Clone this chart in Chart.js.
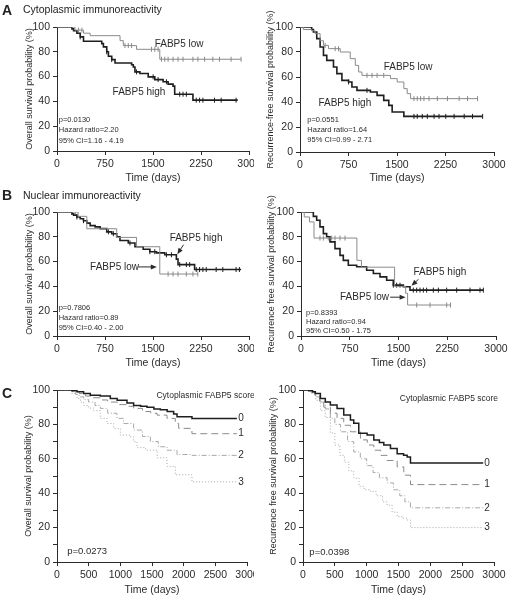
<!DOCTYPE html>
<html>
<head>
<meta charset="utf-8">
<script src="https://cdn.jsdelivr.net/npm/chart.js@4.4.1/dist/chart.umd.min.js"></script>
<style>
  body { margin: 0; background: #fff; }
  #fig { position: relative; width: 508px; height: 598px; font-family: 'Liberation Sans', Arial, sans-serif; color: #222; overflow: hidden; }
  .panel { position: absolute; }
  .lbl { position: absolute; font-weight: bold; font-size: 14px; line-height: 14px; }
  .ttl { position: absolute; font-size: 10.5px; line-height: 10.5px; white-space: nowrap; }
</style>
</head>
<body>
<div id="fig">
  <div class="panel" style="left:0;top:0;width:254px;height:190px"><canvas id="aOs"></canvas></div>
  <div class="panel" style="left:254px;top:0;width:254px;height:190px"><canvas id="aRfs"></canvas></div>
  <div class="panel" style="left:0;top:190px;width:254px;height:185px"><canvas id="bOs"></canvas></div>
  <div class="panel" style="left:254px;top:190px;width:254px;height:185px"><canvas id="bRfs"></canvas></div>
  <div class="panel" style="left:0;top:375px;width:254px;height:223px"><canvas id="cOs"></canvas></div>
  <div class="panel" style="left:254px;top:375px;width:254px;height:223px"><canvas id="cRfs"></canvas></div>

  <div class="lbl" style="left:2px;top:3px">A</div>
  <div class="ttl" style="left:23px;top:4px">Cytoplasmic immunoreactivity</div>
  <div class="lbl" style="left:2px;top:188px">B</div>
  <div class="ttl" style="left:23px;top:190px">Nuclear immunoreactivity</div>
  <div class="lbl" style="left:2px;top:386px">C</div>
</div>

<script>
// ---- data (days, survival %) ----
// A: cytoplasmic, overall survival
var aOsLowT = [0, 280, 415, 518, 985, 1036, 1243, 1606, 2876];
var aOsLowS = [100, 97.5, 95, 93, 89, 85, 82, 74, 74];
var aOsLowCens = [337, 389, 1062, 1114, 1166, 1477, 1528, 1580, 1632, 1684, 1736, 1813, 1891, 1969, 2124, 2202, 2306, 2435, 2539, 2720, 2876];
var aOsHighT = [0, 233, 259, 311, 363, 414, 699, 725, 777, 803, 855, 907, 1166, 1192, 1218, 1295, 1425, 1528, 1658, 1736, 1813, 1839, 2124, 2824];
var aOsHighS = [100, 98.5, 97, 95, 92, 88.5, 86.6, 84, 80, 76.4, 73.7, 71, 69.5, 67.8, 63.8, 62.5, 59.8, 57.6, 55.8, 53.9, 52.3, 45.8, 41, 41];
var aOsHighCens = [363, 777, 855, 1243, 1502, 1580, 1710, 1917, 1969, 2021, 2176, 2228, 2280, 2461, 2565, 2798];

// A: cytoplasmic, recurrence-free survival
var aRfsLowT = [0, 52, 181, 233, 311, 363, 440, 622, 777, 855, 907, 958, 1399, 1503, 1606, 1658, 1710, 2746];
var aRfsLowS = [100, 98, 97, 94.7, 89, 85.3, 82.7, 80, 74.7, 69.3, 64, 61.3, 58.7, 56, 50.7, 46.7, 42.7, 42.7];
var aRfsLowCens = [389, 544, 596, 1036, 1114, 1192, 1295, 1762, 1813, 1865, 1917, 1995, 2124, 2280, 2461, 2591, 2746];
var aRfsHighT = [0, 181, 207, 259, 311, 363, 414, 518, 570, 648, 751, 803, 881, 1088, 1192, 1295, 1373, 1425, 1606, 2824];
var aRfsHighS = [100, 98, 96, 90.7, 84, 77.3, 73.3, 68, 62.7, 57.3, 56, 52, 49.3, 48, 45.3, 41.3, 37.3, 32, 28.5, 28.5];
var aRfsHighCens = [751, 1036, 1762, 1813, 1891, 1969, 2073, 2150, 2254, 2383, 2539, 2668, 2824];

// B: nuclear, overall survival
var bOsLowT = [0, 330, 466, 933, 1243, 1606, 2200];
var bOsLowS = [100, 96.5, 86.5, 79.5, 72, 50, 50];
var bOsLowCens = [233, 285, 1736, 1813, 1891, 2021, 2124, 2200];
var bOsHighT = [0, 233, 259, 311, 363, 414, 466, 518, 596, 674, 777, 855, 933, 984, 1114, 1218, 1347, 1451, 1554, 1684, 1865, 1891, 2150, 2876];
var bOsHighS = [100, 98.5, 97.5, 96, 94.5, 93, 91, 89, 88, 86.6, 84, 82.5, 80, 77, 75, 72, 70, 68, 67, 65.5, 62, 57.6, 53.6, 53.6];
var bOsHighCens = [311, 414, 803, 881, 1140, 1451, 1528, 1710, 1788, 1917, 2021, 2073, 2176, 2228, 2280, 2332, 2487, 2591, 2798, 2850];

// B: nuclear, recurrence free survival
var bRfsLowT = [0, 50, 130, 200, 860, 930, 1440, 1610, 1640, 2300];
var bRfsLowS = [100, 96, 92, 79, 61, 55.5, 40, 34.5, 25, 25];
var bRfsLowCens = [292, 344, 420, 472, 523, 600, 677, 1780, 1985, 2241, 2300];
var bRfsHighT = [0, 190, 241, 292, 344, 395, 446, 523, 600, 651, 728, 856, 1010, 1113, 1215, 1318, 1420, 1574, 1677, 2805];
var bRfsHighS = [100, 96.5, 93.3, 88, 82.6, 80, 75.9, 70.5, 65, 61, 57, 55.8, 53, 50.4, 47.7, 45, 41, 39.7, 37, 37];
var bRfsHighCens = [1420, 1472, 1523, 1728, 1780, 1831, 1882, 1933, 2036, 2113, 2241, 2395, 2600, 2754, 2805];

// C: cytoplasmic score 0-3, overall survival
var cOs0T = [0, 237, 316, 420, 526, 684, 842, 950, 1105, 1210, 1320, 1421, 1530, 1632, 1740, 1842, 1895, 2131, 2840];
var cOs0S = [100, 99.5, 99, 98, 97, 96.5, 95, 94, 92.5, 91, 90.5, 90, 89, 88.5, 87.5, 86, 84.5, 83.4, 83.4];
var cOs1T = [0, 250, 350, 450, 550, 684, 800, 950, 1100, 1210, 1350, 1480, 1579, 1737, 1868, 1921, 2131, 2840];
var cOs1S = [100, 99, 98, 96.5, 95.5, 94.2, 93, 91.5, 90.5, 89.3, 87.5, 86.5, 85.4, 83.5, 80.6, 77.7, 74.6, 74.6];
var cOs2T = [0, 250, 290, 350, 421, 500, 600, 684, 800, 947, 1050, 1210, 1350, 1474, 1600, 1737, 1895, 2131, 2840];
var cOs2S = [100, 99, 97.5, 96, 94.5, 93, 91, 89.3, 86.5, 83.5, 80.5, 76.7, 73, 70, 67, 65, 62.5, 62, 62];
var cOs3T = [0, 230, 316, 370, 421, 500, 579, 684, 790, 895, 1000, 1158, 1210, 1263, 1400, 1583, 1737, 1868, 2131, 2840];
var cOs3S = [100, 98, 95, 93, 91, 89.5, 88, 83.5, 80.5, 77.7, 73.8, 72.8, 70, 66.5, 65, 60.6, 55.6, 50.7, 46.6, 46.6];

// C: cytoplasmic score 0-3, recurrence free survival
var cRfs0T = [0, 89, 150, 194, 273, 350, 430, 535, 640, 745, 797, 876, 1007, 1112, 1200, 1269, 1374, 1479, 1580, 1636, 1688, 2830];
var cRfs0S = [100, 99.6, 99, 98, 95, 93, 91.3, 89.3, 85.4, 82.5, 80.6, 74.8, 73.8, 70.9, 69.5, 68, 66, 63, 62, 61, 57.5, 57.5];
var cRfs1T = [0, 120, 185, 260, 326, 430, 535, 640, 745, 902, 1010, 1112, 1220, 1321, 1479, 1583, 1688, 2830];
var cRfs1S = [100, 99, 97, 93.5, 90, 86.5, 83.5, 79.5, 75.7, 71, 68, 65, 62, 59, 55.3, 50.5, 45, 45];
var cRfs2T = [0, 130, 200, 273, 350, 430, 500, 588, 700, 797, 900, 1000, 1100, 1200, 1321, 1420, 1520, 1600, 1688, 2830];
var cRfs2S = [100, 98.5, 96, 93, 89, 83.5, 80, 75.7, 70, 64, 60, 56, 52, 49, 46, 42, 38.5, 35, 31.5, 31.5];
var cRfs3T = [0, 130, 200, 273, 350, 430, 500, 580, 650, 720, 797, 880, 960, 1059, 1150, 1250, 1321, 1400, 1479, 1560, 1636, 1688, 2830];
var cRfs3S = [100, 98, 94, 88, 84, 75, 68, 62, 58, 53, 48.8, 44, 42, 41, 38.5, 35, 33, 29, 26.4, 25.5, 24.4, 20, 20];

var abTicksX = [0, 750, 1500, 2250, 3000];
var cTicksX = [0, 500, 1000, 1500, 2000, 2500, 3000];

// ---- drawing ----
var FONT = "'Liberation Sans', Arial, sans-serif";
var INK = '#2b2b2b';
var DARK = '#1e1e1e';
var GREY = '#8a8a8a';
var LIGHT = '#a8a8a8';

function steps(T, S) {
    return T.map(function (t, i) { return { x: t, y: S[i] }; });
}

// value of the step curve at time t (used to sit censor marks on the curve)
function valueAt(T, S, t) {
    var v = S[0];
    for (var i = 0; i < T.length; i++) {
        if (T[i] <= t) v = S[i];
    }
    return v;
}

function curve(T, S, color, width, dash) {
    return {
        data: steps(T, S),
        borderColor: color,
        borderWidth: width,
        borderDash: dash || [],
        stepped: 'before',
        pointRadius: 0,
        fill: false
    };
}

function marks(T, S, C, color) {
    return {
        data: C.map(function (t) { return { x: t, y: valueAt(T, S, t) }; }),
        showLine: false,
        pointStyle: 'line',
        pointRotation: 90,
        pointRadius: 2.5,
        pointBorderColor: color,
        pointBorderWidth: 1
    };
}

function notesPlugin(items) {
    return {
        id: 'notes',
        afterDatasetsDraw: function (chart) {
            var ctx = chart.ctx, xs = chart.scales.x, ys = chart.scales.y;
            ctx.save();
            items.forEach(function (n) {
                if (n.text !== undefined) {
                    ctx.font = (n.size || 10) + 'px ' + FONT;
                    ctx.fillStyle = INK;
                    ctx.textAlign = n.align || 'left';
                    ctx.textBaseline = 'middle';
                    ctx.fillText(n.text, xs.getPixelForValue(n.x), ys.getPixelForValue(n.y));
                } else {
                    // arrow from (x, y) to (x2, y2)
                    var x1 = xs.getPixelForValue(n.x), y1 = ys.getPixelForValue(n.y);
                    var x2 = xs.getPixelForValue(n.x2), y2 = ys.getPixelForValue(n.y2);
                    var a = Math.atan2(y2 - y1, x2 - x1);
                    ctx.strokeStyle = INK;
                    ctx.fillStyle = INK;
                    ctx.lineWidth = 1;
                    ctx.beginPath();
                    ctx.moveTo(x1, y1);
                    ctx.lineTo(x2 - 4 * Math.cos(a), y2 - 4 * Math.sin(a));
                    ctx.stroke();
                    ctx.beginPath();
                    ctx.moveTo(x2, y2);
                    ctx.lineTo(x2 - 6 * Math.cos(a) + 2.5 * Math.sin(a), y2 - 6 * Math.sin(a) - 2.5 * Math.cos(a));
                    ctx.lineTo(x2 - 6 * Math.cos(a) - 2.5 * Math.sin(a), y2 - 6 * Math.sin(a) + 2.5 * Math.cos(a));
                    ctx.closePath();
                    ctx.fill();
                }
            });
            ctx.restore();
        }
    };
}

// p: {w, h, left, top, right, bottom, xTicks, yStep, yTitle, yTitlePad, xTitlePad}
function build(id, p, datasets, notes) {
    var ctx = document.getElementById(id).getContext('2d');
    return new Chart(ctx, {
        type: 'line',
        data: { datasets: datasets },
        options: {
            responsive: true,
            maintainAspectRatio: false,
            animation: false,
            events: [],
            layout: { padding: { top: p.top, right: p.w - p.right, left: 0, bottom: 0 } },
            plugins: { legend: { display: false }, tooltip: { enabled: false } },
            scales: {
                x: {
                    type: 'linear',
                    min: 0,
                    max: 3000,
                    afterBuildTicks: function (s) {
                        s.ticks = p.xTicks.map(function (v) { return { value: v }; });
                    },
                    ticks: {
                        color: INK,
                        font: { family: FONT, size: 10.5 },
                        maxRotation: 0,
                        autoSkip: false,
                        padding: 3,
                        callback: function (v) { return String(v); }
                    },
                    grid: { drawOnChartArea: false, drawTicks: true, tickLength: 4, color: INK },
                    border: { color: INK, width: 1 },
                    title: { display: true, text: 'Time (days)', color: INK, font: { family: FONT, size: 10.5 }, padding: { top: 0, bottom: p.xTitlePad } },
                    afterFit: function (s) {
                        s.height = p.h - p.bottom;
                        s.paddingLeft = 0;
                        s.paddingRight = 0;
                    }
                },
                y: {
                    min: 0,
                    max: 100,
                    ticks: {
                        stepSize: p.yStep,
                        color: INK,
                        font: { family: FONT, size: 10.5 },
                        padding: 3,
                        callback: function (v) { return v % 20 === 0 ? String(v) : ''; }
                    },
                    grid: { drawOnChartArea: false, drawTicks: true, tickLength: 4, color: INK },
                    border: { color: INK, width: 1 },
                    title: { display: true, text: p.yTitle, color: INK, font: { family: FONT, size: 9 }, padding: { top: p.yTitlePad, bottom: 0 } },
                    afterFit: function (s) {
                        s.width = p.left;
                        s.paddingTop = 0;
                        s.paddingBottom = 0;
                    }
                }
            }
        },
        plugins: [notesPlugin(notes)]
    });
}

document.addEventListener('DOMContentLoaded', function () {
    var OS = 'Overall survival probability (%)';

    build('aOs', { w: 254, h: 190, left: 57, top: 27, right: 250, bottom: 151, xTicks: abTicksX, yStep: 20, yTitle: OS, yTitlePad: 24, xTitlePad: 6 }, [
        curve(aOsLowT, aOsLowS, GREY, 1),
        curve(aOsHighT, aOsHighS, DARK, 1.6),
        marks(aOsLowT, aOsLowS, aOsLowCens, GREY),
        marks(aOsHighT, aOsHighS, aOsHighCens, DARK)
    ], [
        { text: 'FABP5 low', x: 1526, y: 86 },
        { text: 'FABP5 high', x: 869, y: 47.5 },
        { text: 'p=0.0130', x: 28, y: 25, size: 7.5 },
        { text: 'Hazard ratio=2.20', x: 28, y: 17, size: 7.5 },
        { text: '95% CI=1.16 - 4.19', x: 28, y: 8.5, size: 7.5 }
    ]);

    build('aRfs', { w: 254, h: 190, left: 46, top: 27, right: 240, bottom: 152, xTicks: abTicksX, yStep: 20, yTitle: 'Recurrence-free survival probability (%)', yTitlePad: 11.5, xTitlePad: 6 }, [
        curve(aRfsLowT, aRfsLowS, GREY, 1),
        curve(aRfsHighT, aRfsHighS, DARK, 1.6),
        marks(aRfsLowT, aRfsLowS, aRfsLowCens, GREY),
        marks(aRfsHighT, aRfsHighS, aRfsHighCens, DARK)
    ], [
        { text: 'FABP5 low', x: 1294, y: 68 },
        { text: 'FABP5 high', x: 285, y: 38.7 },
        { text: 'p=0.0551', x: 113, y: 26, size: 7.5 },
        { text: 'Hazard ratio=1.64', x: 113, y: 18, size: 7.5 },
        { text: '95% CI=0.99 - 2.71', x: 113, y: 10, size: 7.5 }
    ]);

    build('bOs', { w: 254, h: 185, left: 57, top: 22, right: 250, bottom: 146, xTicks: abTicksX, yStep: 20, yTitle: OS, yTitlePad: 24, xTitlePad: 6 }, [
        curve(bOsLowT, bOsLowS, GREY, 1),
        curve(bOsHighT, bOsHighS, DARK, 1.6),
        marks(bOsLowT, bOsLowS, bOsLowCens, GREY),
        marks(bOsHighT, bOsHighS, bOsHighCens, DARK)
    ], [
        { text: 'FABP5 high', x: 1760, y: 78.5 },
        { x: 1977, y: 73.6, x2: 1880, y2: 66 },
        { text: 'FABP5 low', x: 517, y: 55.7 },
        { x: 1267, y: 55.7, x2: 1560, y2: 55.7 },
        { text: 'p=0.7806', x: 26, y: 22.7, size: 7.5 },
        { text: 'Hazard ratio=0.89', x: 26, y: 14.7, size: 7.5 },
        { text: '95% CI=0.40 - 2.00', x: 26, y: 6.7, size: 7.5 }
    ]);

    build('bRfs', { w: 254, h: 185, left: 47, top: 22, right: 242, bottom: 146, xTicks: abTicksX, yStep: 20, yTitle: 'Recurrence free survival probability (%)', yTitlePad: 12.5, xTitlePad: 6 }, [
        curve(bRfsLowT, bRfsLowS, GREY, 1),
        curve(bRfsHighT, bRfsHighS, DARK, 1.6),
        marks(bRfsLowT, bRfsLowS, bRfsLowCens, GREY),
        marks(bRfsHighT, bRfsHighS, bRfsHighCens, DARK)
    ], [
        { text: 'FABP5 high', x: 1730, y: 51.6 },
        { x: 1808, y: 45.8, x2: 1700, y2: 40.5 },
        { text: 'FABP5 low', x: 601, y: 31.6 },
        { x: 1371, y: 31.3, x2: 1610, y2: 31.3 },
        { text: 'p=0.8393', x: 77, y: 19, size: 7.5 },
        { text: 'Hazard ratio=0.94', x: 77, y: 11.5, size: 7.5 },
        { text: '95% CI=0.50 - 1.75', x: 77, y: 4, size: 7.5 }
    ]);

    build('cOs', { w: 254, h: 223, left: 57, top: 15, right: 247, bottom: 187, xTicks: cTicksX, yStep: 10, yTitle: OS, yTitlePad: 23, xTitlePad: 2 }, [
        curve(cOs0T, cOs0S, DARK, 1.5),
        curve(cOs1T, cOs1S, GREY, 1, [7, 4]),
        curve(cOs2T, cOs2S, LIGHT, 1, [5, 2, 1, 2]),
        curve(cOs3T, cOs3S, LIGHT, 1, [1, 2])
    ], [
        { text: 'Cytoplasmic FABP5 score', x: 1570, y: 97, size: 8.5 },
        { text: '0', x: 2860, y: 83.4 },
        { text: '1', x: 2860, y: 74.6 },
        { text: '2', x: 2860, y: 62 },
        { text: '3', x: 2860, y: 46.6 },
        { text: 'p=0.0273', x: 160, y: 6, size: 9.5 }
    ]);

    build('cRfs', { w: 254, h: 223, left: 49, top: 15, right: 240, bottom: 187, xTicks: cTicksX, yStep: 10, yTitle: 'Recurrence free survival probability (%)', yTitlePad: 14.5, xTitlePad: 2 }, [
        curve(cRfs0T, cRfs0S, DARK, 1.5),
        curve(cRfs1T, cRfs1S, GREY, 1, [7, 4]),
        curve(cRfs2T, cRfs2S, LIGHT, 1, [5, 2, 1, 2]),
        curve(cRfs3T, cRfs3S, LIGHT, 1, [1, 2])
    ], [
        { text: 'Cytoplasmic FABP5 score', x: 1520, y: 95, size: 8.5 },
        { text: '0', x: 2845, y: 57.5 },
        { text: '1', x: 2845, y: 45 },
        { text: '2', x: 2845, y: 31.5 },
        { text: '3', x: 2845, y: 20 },
        { text: 'p=0.0398', x: 100, y: 5.5, size: 9.5 }
    ]);
});
</script>
</body>
</html>
